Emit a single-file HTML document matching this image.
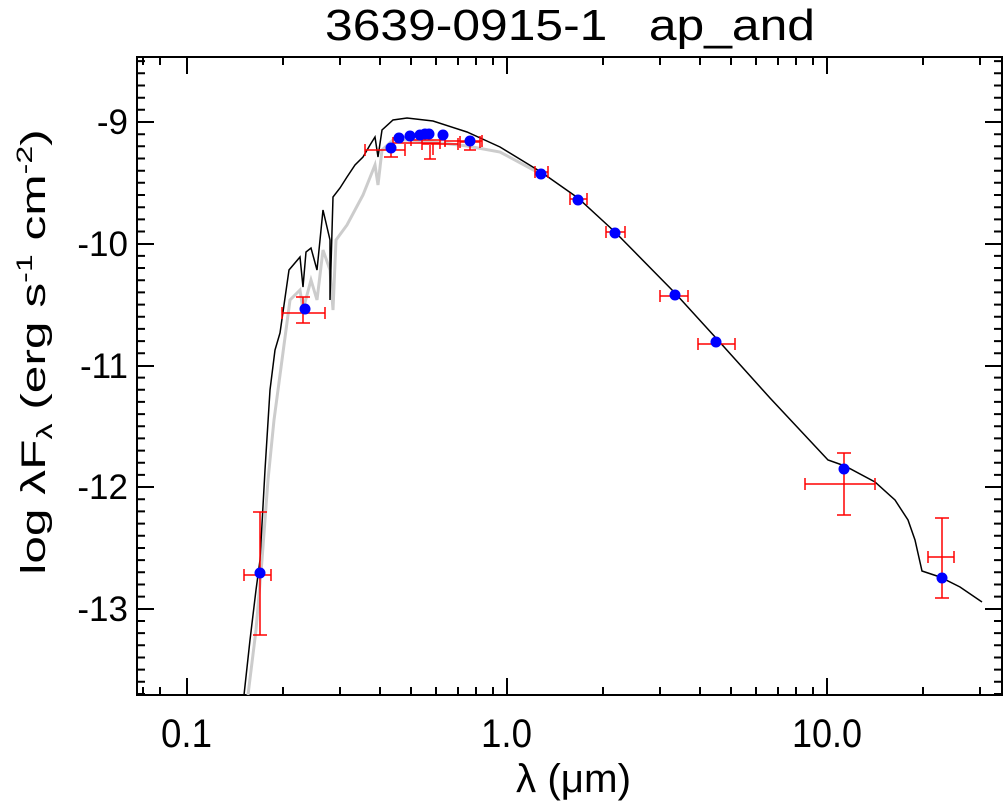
<!DOCTYPE html>
<html><head><style>body{margin:0;background:#fff}svg{display:block;font-family:"Liberation Sans",sans-serif}</style></head><body>
<svg width="1006" height="801" viewBox="0 0 1006 801" xmlns="http://www.w3.org/2000/svg">
<text x="570" y="40" font-size="44" text-anchor="middle" xml:space="preserve" textLength="490" lengthAdjust="spacingAndGlyphs">3639-0915-1&#160;&#160;&#160;ap_and</text>
<g stroke="#000" stroke-width="2" fill="none">
<rect x="137" y="57" width="865" height="638"/>
</g>
<g stroke="#000" stroke-width="2">
<path d="M187 695v-17M507 695v-17M827 695v-17M187 57v17M507 57v17M827 57v17"/>
<path d="M143 695v-8M160 695v-8M283 695v-8M340 695v-8M380 695v-8M411 695v-8M436 695v-8M458 695v-8M476 695v-8M493 695v-8M603 695v-8M660 695v-8M700 695v-8M731 695v-8M756 695v-8M778 695v-8M796 695v-8M813 695v-8M923 695v-8M980 695v-8
M143 57v8M160 57v8M283 57v8M340 57v8M380 57v8M411 57v8M436 57v8M458 57v8M476 57v8M493 57v8M603 57v8M660 57v8M700 57v8M731 57v8M756 57v8M778 57v8M796 57v8M813 57v8M923 57v8M980 57v8"/>
<path d="M137 122h17M137 244h17M137 366h17M137 487h17M137 609h17M1002 122h-17M1002 244h-17M1002 366h-17M1002 487h-17M1002 609h-17"/>
</g>
<g stroke="#000" stroke-width="2" id="yminor"></g>
<g font-size="35" text-anchor="end">
<text x="128" y="134">-9</text><text x="128" y="256">-10</text><text x="128" y="378">-11</text><text x="128" y="499">-12</text><text x="128" y="621">-13</text>
</g>
<g font-size="40">
<text x="161" y="747" textLength="51" lengthAdjust="spacingAndGlyphs">0.1</text>
<text x="481" y="747" textLength="51" lengthAdjust="spacingAndGlyphs">1.0</text>
<text x="792" y="747" textLength="70" lengthAdjust="spacingAndGlyphs">10.0</text>
<text x="516" y="792" textLength="115" lengthAdjust="spacingAndGlyphs">λ (μm)</text>
</g>
<text transform="translate(45,352) rotate(-90) scale(1.46,1)" font-size="34" text-anchor="middle">log λF<tspan font-size="22" dy="7">λ</tspan><tspan dy="-7"> (erg s</tspan><tspan font-size="22" dy="-13">-1</tspan><tspan dy="13"> cm</tspan><tspan font-size="22" dy="-13">-2</tspan><tspan dy="13">)</tspan></text>
<polyline fill="none" stroke="#ccc" stroke-width="3" points="248,695 256,630 262,560 268,480 274,420 282,360 290,300 300,290 303,310 311,280 317,300 323,250 330,270 333,310 336,240 347,225 363,195 375,165 378,185 382,150 393,140 410,140 433,142 467,146 500,152 541,174"/>
<polyline fill="none" stroke="#000" stroke-width="1.5" points="244,695 250,640 256,590 260,560 265,470 270,390 275,350 280,333 289,270 300,257 303,287 306,252 311,248 317,270 320,240 323,210 330,240 330,300 333,197 340,188 347,177 355,165 363,157 370,145 375,137 378,157 382,130 393,120 407,118 433,121 467,132 500,147 541,172 578,198 615,232 675,293 716,338 770,398 828,460 845,466 875,482 895,500 908,520 915,540 922,571 940,577 960,587 982,602"/>
<g stroke="#f00" stroke-width="1.5" fill="none">
<path d="M260 512V635M253 512h14M253 635h14M244 575H271M244 569v12M271 569v12"/>
<path d="M303 297V323M296 297h14M296 323h14M282 313H325M282 307v12M325 307v12"/>
<path d="M365 150H405M365 144v12M405 144v12M391 145v12M384 157h14"/>
<path d="M393 143H440M393 137v12M440 137v12M411 140H445M411 134v12M445 134v12"/>
<path d="M422 144H458M422 138v12M458 138v12M430 145v14M424 159h12M433 143v12"/>
<path d="M445 141H482M445 135v12M482 135v12"/>
<path d="M460 142H480M460 136v12M480 136v12M470 136v14M464 150h12"/>
<path d="M535 172H548M535 166v12M548 166v12"/>
<path d="M570 199H587M570 193v12M587 193v12"/>
<path d="M606 232H625M606 226v12M625 226v12"/>
<path d="M660 296H688M660 290v12M688 290v12"/>
<path d="M698 344H735M698 338v12M735 338v12"/>
<path d="M844 453V515M837 453h14M837 515h14M805 484H875M805 478v12M875 478v12"/>
<path d="M942 518V598M935 518h14M935 598h14M928 557H954M928 551v12M954 551v12"/>
</g>
<g fill="#00f">
<circle cx="260" cy="573" r="5.5"/><circle cx="305" cy="309" r="5.5"/>
<circle cx="391" cy="148" r="5.5"/><circle cx="399" cy="138" r="5.5"/><circle cx="410" cy="136" r="5.5"/><circle cx="420" cy="135" r="5.5"/><circle cx="425" cy="134" r="5.5"/><circle cx="429" cy="134" r="5.5"/><circle cx="443" cy="135" r="5.5"/><circle cx="470" cy="141" r="5.5"/>
<circle cx="541" cy="174" r="5.5"/><circle cx="578" cy="200" r="5.5"/><circle cx="615" cy="233" r="5.5"/><circle cx="675" cy="295" r="5.5"/><circle cx="716" cy="342" r="5.5"/><circle cx="844" cy="469" r="5.5"/><circle cx="942" cy="578" r="5.5"/>
</g>
<script>
var g=document.getElementById('yminor'),d='';
for(var k=-5;k<=47;k++){if(k%10===0)continue;var y=(122+k*12.17).toFixed(1);d+='M137 '+y+'h8M1002 '+y+'h-8';}
var p=document.createElementNS('http://www.w3.org/2000/svg','path');p.setAttribute('d',d);g.appendChild(p);
</script>
</svg>
</body></html>
